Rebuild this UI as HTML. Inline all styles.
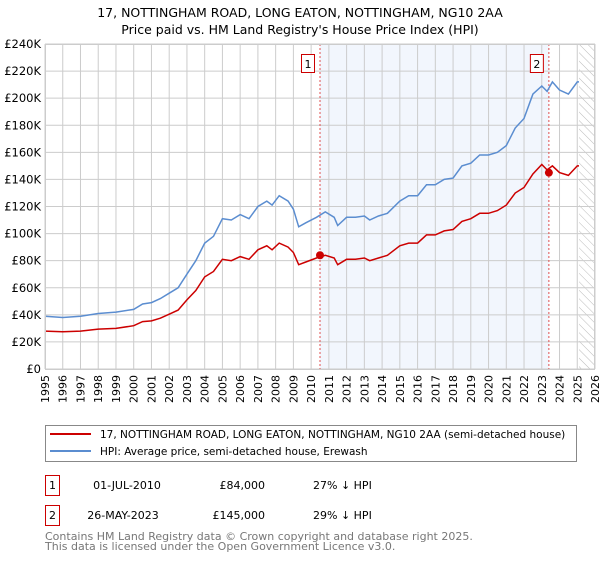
<!DOCTYPE html>
<html><head><meta charset="utf-8"><style>
body{margin:0;background:#fff;font-family:"Liberation Sans","DejaVu Sans",sans-serif;}
svg text{font-family:"DejaVu Sans","Liberation Sans",sans-serif;}
</style></head><body>
<svg width="600" height="560">
<defs><pattern id="hatch" width="6" height="6" patternUnits="userSpaceOnUse" patternTransform="rotate(-45)"><line x1="0" y1="0" x2="0" y2="6" stroke="#bbb" stroke-width="1"/></pattern></defs>
<text x="300" y="17" text-anchor="middle" font-size="12.5">17, NOTTINGHAM ROAD, LONG EATON, NOTTINGHAM, NG10 2AA</text>
<text x="300" y="34" text-anchor="middle" font-size="12.5">Price paid vs. HM Land Registry's House Price Index (HPI)</text>
<g id="plot"></g>
<g id="legend">
<rect x="45.5" y="425.5" width="531" height="36" fill="#fff" stroke="#888"/>
<line x1="50" y1="434" x2="91" y2="434" stroke="#cc0000" stroke-width="2"/>
<text x="100" y="438" font-size="10.5">17, NOTTINGHAM ROAD, LONG EATON, NOTTINGHAM, NG10 2AA (semi-detached house)</text>
<line x1="50" y1="451" x2="91" y2="451" stroke="#5b8dd0" stroke-width="2"/>
<text x="100" y="455" font-size="10.5">HPI: Average price, semi-detached house, Erewash</text>
</g>
<g font-size="11">
<rect x="45.5" y="475.5" width="14" height="20" fill="#fff" stroke="#cc0000"/>
<text x="52.5" y="489" text-anchor="middle">1</text>
<text x="127" y="489" text-anchor="middle">01-JUL-2010</text>
<text x="265" y="489" text-anchor="end">£84,000</text>
<text x="313" y="489">27% ↓ HPI</text>
<rect x="45.5" y="505.5" width="14" height="20" fill="#fff" stroke="#cc0000"/>
<text x="52.5" y="519" text-anchor="middle">2</text>
<text x="123" y="519" text-anchor="middle">26-MAY-2023</text>
<text x="265" y="519" text-anchor="end">£145,000</text>
<text x="313" y="519">29% ↓ HPI</text>
</g>
<text x="45" y="540" font-size="11" fill="#777">Contains HM Land Registry data © Crown copyright and database right 2025.</text>
<text x="45" y="550" font-size="11" fill="#777">This data is licensed under the Open Government Licence v3.0.</text>
</svg>
<script>
const hpiYears=[1995,1996,1997,1998,1999,2000,2000.5,2001,2001.5,2002,2002.5,2003,2003.5,2004,2004.5,2005,2005.5,2006,2006.5,2007,2007.5,2007.8,2008.2,2008.7,2009,2009.3,2009.7,2010.3,2010.8,2011.3,2011.5,2012,2012.5,2013,2013.3,2013.8,2014.3,2015,2015.5,2016,2016.5,2017,2017.5,2018,2018.5,2019,2019.5,2020,2020.5,2021,2021.5,2022,2022.5,2023,2023.3,2023.6,2024,2024.5,2025,2025.1];
const hpiValues=[39,38,39,41,42,44,48,49,52,56,60,70,80,93,98,111,110,114,111,120,124,121,128,124,118,105,108,112,116,112,106,112,112,113,110,113,115,124,128,128,136,136,140,141,150,152,158,158,160,165,178,185,203,209,205,212,206,203,212,212];
const propValues=[28,27.5,28,29.5,30,32,35,35.5,37.5,40.5,43.5,51,58,68,72,81,80,83,81,88,91,88,93,90,86,77,79,82,84,82,77,81,81,82,80,82,84,91,93,93,99,99,102,103,109,111,115,115,117,121,130,134,144,151,147,150,145,143,150,150];
const sales=[{x:2010.5,y:84,label:"1"},{x:2023.4,y:145,label:"2"}];
const yTicks=[0,20,40,60,80,100,120,140,160,180,200,220,240];
const xTicks=[];for(let y=1995;y<=2026;y++)xTicks.push(y);
const NS="http://www.w3.org/2000/svg";
const X0=45,X1=595,Y0=369,Y1=44;
const xs=v=>X0+(v-1995)/(2026-1995)*(X1-X0);
const ys=v=>Y0-v/240*(Y0-Y1);
const g=document.getElementById('plot');
function mk(tag,attrs,parent){const e=document.createElementNS(NS,tag);for(const k in attrs)e.setAttribute(k,attrs[k]);(parent||g).appendChild(e);return e;}
let r=mk('rect',{x:xs(2010.5),y:Y1,width:xs(2023.4)-xs(2010.5),height:Y0-Y1,fill:'#f2f6fd'});


r=mk('rect',{x:xs(2025.1),y:Y1,width:X1-xs(2025.1),height:Y0-Y1,fill:'url(#hatch)'});


xTicks.forEach(t=>{
 const l=mk('line',{x1:xs(t),x2:xs(t),y1:Y1,y2:Y0,stroke:'#ccc','stroke-width':1});
 
 
 const tx=mk('text',{x:0,y:0,'font-size':11,'text-anchor':'end',transform:`translate(${xs(t)+4},${Y0+6}) rotate(-90)`});
 tx.textContent=t;
 
 
});
yTicks.forEach(t=>{
 const l=mk('line',{x1:X0,x2:X1,y1:ys(t),y2:ys(t),stroke:'#ccc','stroke-width':1});
 
 
 const tx=mk('text',{x:X0-4,y:ys(t)+4,'font-size':11.5,'text-anchor':'end'});
 tx.textContent=t===0?'£0':'£'+t+'K';
 
 
});
sales.forEach(s=>{
 const l=mk('line',{x1:xs(s.x),x2:xs(s.x),y1:Y1,y2:Y0,stroke:'#e05050','stroke-width':1,'stroke-dasharray':'2,2'});
 
 
});
function path(vals,color,name){
 const d=hpiYears.map((yr,i)=>(i?'L':'M')+xs(yr).toFixed(1)+','+ys(vals[i]).toFixed(1)).join('');
 const p=mk('path',{d:d,fill:'none',stroke:color,'stroke-width':1.5});
 
 
}
path(hpiValues,'#5b8dd0','hpi-line');
path(propValues,'#cc0000','property-line');
sales.forEach(s=>{
 const c=mk('circle',{cx:xs(s.x),cy:ys(s.y),r:4,fill:'#cc0000'});
 
 
 const b=mk('rect',{x:xs(s.x)-18.5,y:54.5,width:13,height:18,fill:'#fff',stroke:'#cc0000'});
 
 
 const t=mk('text',{x:xs(s.x)-12,y:68,'font-size':11,'text-anchor':'middle'});
 t.textContent=s.label;
 
 
});
const ax=mk('rect',{x:X0+0.5,y:Y1+0.5,width:X1-X0-1,height:Y0-Y1,fill:'none',stroke:'#ccc'});


</script>
</body></html>
